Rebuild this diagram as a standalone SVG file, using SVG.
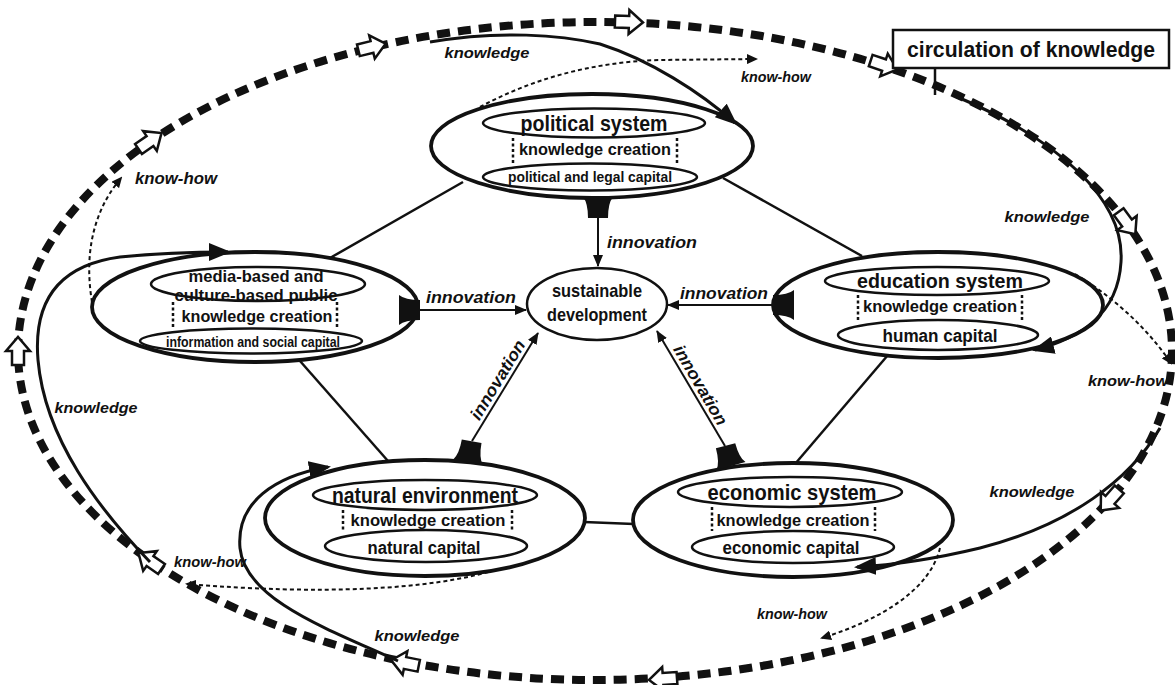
<svg xmlns="http://www.w3.org/2000/svg" xmlns:xlink="http://www.w3.org/1999/xlink" width="1175" height="685" viewBox="0 0 1175 685">
<style>
.outer{fill:#fff;stroke:#111;stroke-width:3.8}
.inner{fill:#fff;stroke:#111;stroke-width:2.5}
.dots{stroke:#111;stroke-width:2.5;stroke-dasharray:3 2.5;fill:none}
.edge{stroke:#111;stroke-width:2.5;fill:none}
.know{stroke:#111;stroke-width:3;fill:none}
.how{stroke:#111;stroke-width:2;stroke-dasharray:4 3;fill:none}
.inno{stroke:#111;stroke-width:2;fill:none}
.circ{stroke:#111;stroke-width:8;stroke-dasharray:13 8;fill:none}
.hollow{fill:#fff;stroke:#111;stroke-width:2.5;stroke-linejoin:miter}
.t{font-family:"Liberation Sans Narrow","Liberation Sans",Arial,sans-serif;font-weight:bold;text-anchor:middle;fill:#111}
.lab{font-family:"Liberation Sans",Arial,sans-serif;font-weight:bold;font-style:italic;text-anchor:middle;fill:#111}
</style>
<defs>
<marker id="ak" markerWidth="22" markerHeight="18" refX="19" refY="9" orient="auto" markerUnits="userSpaceOnUse"><path d="M0,0 L22,9 L0,18 Z" fill="#111"/></marker>
<marker id="ah" markerWidth="11" markerHeight="10" refX="9" refY="5" orient="auto" markerUnits="userSpaceOnUse"><path d="M0,0 L11,5 L0,10 Z" fill="#111"/></marker>
<marker id="ai" markerWidth="12" markerHeight="10" refX="11" refY="5" orient="auto" markerUnits="userSpaceOnUse"><path d="M0,0 L12,5 L0,10 Z" fill="#111"/></marker>
<path id="hollow" d="M-14,-6 L0,-6 L0,-12 L14,0 L0,12 L0,6 L-14,6 Z"/>
<path id="funnel" d="M-15,0 L15,0 Q10,6 10,21 L-10,21 Q-10,6 -15,0 Z"/>
</defs>

<g id="circulation">
<ellipse class="circ" cx="595" cy="351" rx="577" ry="329"/>
<g class="hollow">
<use xlink:href="#hollow" transform="translate(150,141) rotate(-34.7)"/>
<use xlink:href="#hollow" transform="translate(372,47) rotate(-13.5)"/>
<use xlink:href="#hollow" transform="translate(629,22) rotate(2)"/>
<use xlink:href="#hollow" transform="translate(884,65) rotate(18.3)"/>
<use xlink:href="#hollow" transform="translate(1127,223) rotate(53.7)"/>
<use xlink:href="#hollow" transform="translate(1110,500) rotate(131.4)"/>
<use xlink:href="#hollow" transform="translate(663,679) rotate(176)"/>
<use xlink:href="#hollow" transform="translate(405,663) rotate(191.3)"/>
<use xlink:href="#hollow" transform="translate(150,561) rotate(214.7)"/>
<use xlink:href="#hollow" transform="translate(18,351) rotate(-90)"/>
</g>
</g>

<g id="edges">
<path class="edge" d="M463,182 L330,258"/>
<path class="edge" d="M723,178 L862,256"/>
<path class="edge" d="M300,361 L388,461"/>
<path class="edge" d="M888,355 L795,464"/>
<path class="edge" d="M584,522 L634,524"/>
</g>

<g id="node-political">
<ellipse class="outer" cx="592" cy="146" rx="161" ry="52"/>
<ellipse class="inner" cx="594" cy="123" rx="111" ry="14.5"/>
<ellipse class="inner" cx="590" cy="177" rx="107" ry="13.5"/>
<path class="dots" d="M513,138 V163 M677,138 V163"/>
<text class="t" x="594" y="131" font-size="22" textLength="147" lengthAdjust="spacingAndGlyphs">political system</text>
<text class="t" x="595" y="155" font-size="16" textLength="152" lengthAdjust="spacingAndGlyphs">knowledge creation</text>
<text class="t" x="590" y="182" font-size="14" textLength="164" lengthAdjust="spacingAndGlyphs">political and legal capital</text>
</g>

<g id="node-media">
<ellipse class="outer" cx="255" cy="307" rx="163" ry="55"/>
<ellipse class="inner" cx="258" cy="284" rx="107" ry="17"/>
<ellipse class="inner" cx="251" cy="341" rx="111" ry="12.5"/>
<path class="dots" d="M173,302 V328 M337,302 V328"/>
<text class="t" x="256" y="282" font-size="17" textLength="135" lengthAdjust="spacingAndGlyphs">media-based and</text>
<text class="t" x="256" y="301" font-size="17" textLength="163" lengthAdjust="spacingAndGlyphs">culture-based public</text>
<text class="t" x="257" y="322" font-size="16" textLength="151" lengthAdjust="spacingAndGlyphs">knowledge creation</text>
<text class="t" x="253" y="347" font-size="14.5" textLength="174" lengthAdjust="spacingAndGlyphs">information and social capital</text>
</g>

<g id="node-education">
<ellipse class="outer" cx="938" cy="305" rx="165" ry="53"/>
<ellipse class="inner" cx="937" cy="281" rx="112" ry="14"/>
<ellipse class="inner" cx="938" cy="335" rx="100" ry="15"/>
<path class="dots" d="M858,295 V320 M1022,295 V320"/>
<text class="t" x="940" y="288" font-size="21" textLength="166" lengthAdjust="spacingAndGlyphs">education system</text>
<text class="t" x="940" y="312" font-size="16" textLength="154" lengthAdjust="spacingAndGlyphs">knowledge creation</text>
<text class="t" x="940" y="342" font-size="18" textLength="115" lengthAdjust="spacingAndGlyphs">human capital</text>
</g>

<g id="node-natural">
<ellipse class="outer" cx="425" cy="518" rx="160" ry="58"/>
<ellipse class="inner" cx="425" cy="495" rx="112" ry="15"/>
<ellipse class="inner" cx="426" cy="546" rx="101" ry="16"/>
<path class="dots" d="M343,510 V530 M512,510 V530"/>
<text class="t" x="425" y="503" font-size="22" textLength="186" lengthAdjust="spacingAndGlyphs">natural environment</text>
<text class="t" x="428" y="526" font-size="16" textLength="155" lengthAdjust="spacingAndGlyphs">knowledge creation</text>
<text class="t" x="424" y="554" font-size="18" textLength="113" lengthAdjust="spacingAndGlyphs">natural capital</text>
</g>

<g id="node-economic">
<ellipse class="outer" cx="793" cy="520" rx="160" ry="57"/>
<ellipse class="inner" cx="790" cy="492" rx="112" ry="15"/>
<ellipse class="inner" cx="793" cy="547" rx="101" ry="16"/>
<path class="dots" d="M712,507 V531 M875,507 V531"/>
<text class="t" x="792" y="500" font-size="22" textLength="169" lengthAdjust="spacingAndGlyphs">economic system</text>
<text class="t" x="793" y="526" font-size="16" textLength="153" lengthAdjust="spacingAndGlyphs">knowledge creation</text>
<text class="t" x="791" y="554" font-size="18" textLength="137" lengthAdjust="spacingAndGlyphs">economic capital</text>
</g>

<g id="node-sustainable">
<ellipse class="inner" cx="597" cy="304" rx="70" ry="36"/>
<text class="t" x="597" y="297" font-size="19" textLength="90" lengthAdjust="spacingAndGlyphs">sustainable</text>
<text class="t" x="597" y="321" font-size="19" textLength="100" lengthAdjust="spacingAndGlyphs">development</text>
</g>

<g id="node-box">
<rect x="893" y="30" width="276" height="38" fill="#fff" stroke="#111" stroke-width="2.5"/>
<text class="t" x="1031" y="57" font-size="22" textLength="248" lengthAdjust="spacingAndGlyphs">circulation of knowledge</text>
</g>

<g id="connectors">
<path class="edge" d="M935,69 V95"/>
<path class="know" marker-end="url(#ak)" d="M430,42 C500,30 560,35 600,44 C650,60 700,92 735,123"/>
<path class="know" marker-end="url(#ak)" d="M955,96 C1060,140 1125,200 1121,262 C1118,315 1080,338 1035,350"/>
<path class="know" marker-end="url(#ak)" d="M1160,428 C1130,480 1070,525 980,548 C930,560 895,565 857,567"/>
<path class="know" marker-end="url(#ak)" d="M398,661 C330,630 245,600 240,548 C236,502 275,476 328,467"/>
<path class="know" marker-end="url(#ak)" d="M150,562 C100,510 45,440 38,360 C33,300 60,265 120,257 C160,253 195,252 228,252"/>
<path class="how" marker-end="url(#ah)" d="M480,107 C530,80 590,62 660,60 L756,59"/>
<path class="how" marker-end="url(#ah)" d="M92,302 C85,260 90,215 121,178"/>
<path class="how" marker-end="url(#ah)" d="M1075,274 C1110,295 1145,325 1171,363"/>
<path class="how" marker-end="url(#ah)" d="M940,548 C930,590 880,620 822,638"/>
<path class="how" marker-end="url(#ah)" d="M495,570 C430,590 320,595 187,584"/>
<g fill="#111">
<use xlink:href="#funnel" transform="translate(598,197)"/>
<use xlink:href="#funnel" transform="translate(399,310) rotate(-90)"/>
<use xlink:href="#funnel" transform="translate(794,305) rotate(90)"/>
<use xlink:href="#funnel" transform="translate(468,462) rotate(-170)"/>
<use xlink:href="#funnel" transform="translate(731,466) rotate(165)"/>
</g>
<path class="inno" marker-end="url(#ai)" d="M598,217 L598,266"/>
<path class="inno" marker-end="url(#ai)" d="M419,310 L526,310"/>
<path class="inno" marker-end="url(#ai)" d="M774,305 L668,305"/>
<path class="inno" marker-end="url(#ai)" d="M472,441 L538,333"/>
<path class="inno" marker-end="url(#ai)" d="M725,446 L657,331"/>
</g>

<g id="labels">
<text class="lab" x="652" y="248" font-size="17" textLength="90" lengthAdjust="spacingAndGlyphs">innovation</text>
<text class="lab" x="471" y="303" font-size="17" textLength="90" lengthAdjust="spacingAndGlyphs">innovation</text>
<text class="lab" x="724" y="299" font-size="17" textLength="88" lengthAdjust="spacingAndGlyphs">innovation</text>
<text class="lab" transform="translate(502.6,382.9) rotate(-58.7)" font-size="17" textLength="90" lengthAdjust="spacingAndGlyphs">innovation</text>
<text class="lab" transform="translate(695.4,388) rotate(59.6)" font-size="17" textLength="90" lengthAdjust="spacingAndGlyphs">innovation</text>
<text class="lab" x="487" y="58" font-size="15" textLength="85" lengthAdjust="spacingAndGlyphs">knowledge</text>
<text class="lab" x="776" y="82" font-size="15" textLength="70" lengthAdjust="spacingAndGlyphs">know-how</text>
<text class="lab" x="176" y="184" font-size="16" textLength="82" lengthAdjust="spacingAndGlyphs">know-how</text>
<text class="lab" x="1047" y="222" font-size="15" textLength="85" lengthAdjust="spacingAndGlyphs">knowledge</text>
<text class="lab" x="1128" y="386" font-size="15" textLength="80" lengthAdjust="spacingAndGlyphs">know-how</text>
<text class="lab" x="1032" y="497" font-size="15" textLength="85" lengthAdjust="spacingAndGlyphs">knowledge</text>
<text class="lab" x="792" y="619" font-size="15" textLength="70" lengthAdjust="spacingAndGlyphs">know-how</text>
<text class="lab" x="417" y="641" font-size="15" textLength="85" lengthAdjust="spacingAndGlyphs">knowledge</text>
<text class="lab" x="210" y="567" font-size="15" textLength="72" lengthAdjust="spacingAndGlyphs">know-how</text>
<text class="lab" x="96" y="413" font-size="15" textLength="83" lengthAdjust="spacingAndGlyphs">knowledge</text>
</g>
</svg>
